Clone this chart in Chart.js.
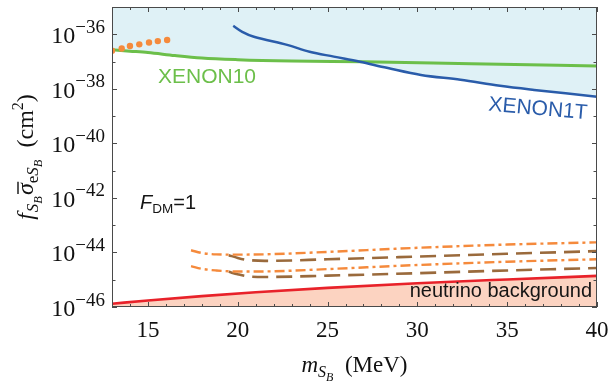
<!DOCTYPE html>
<html><head><meta charset="utf-8">
<script src="https://cdn.jsdelivr.net/npm/chart.js@4.4.1/dist/chart.umd.min.js"></script>
<style>html,body{margin:0;padding:0;background:#fff;}#wrap{width:611px;height:383px;}</style>
</head><body><div id="wrap"><canvas id="c" width="611" height="383"></canvas></div>
<script>
// ---- axis settings (y values are log10 of cross-section in cm^2) ----
const xMin = 13, xMax = 40;
const yMinExp = -46, yMaxExp = -35;
const xTickLabels = [15, 20, 25, 30, 35, 40];
const yTickLabelExps = [-46, -44, -42, -40, -38, -36];

// ---- data, y = log10(sigma / cm^2) ----
const xenon10X = [13, 14, 15, 16.5, 18, 20, 23, 27, 33, 40];
const xenon10Y = [-36.57, -36.62, -36.67, -36.78, -36.87, -36.93, -36.98, -37.01, -37.08, -37.16];

const xenon1tX = [19.75, 20.25, 20.9, 22.75, 24.0, 25.35, 26.8, 28.3, 30.2, 32.4, 34.6, 36.5, 40];
const xenon1tY = [-35.69, -35.91, -36.09, -36.39, -36.64, -36.82, -37.01, -37.23, -37.49, -37.67, -37.89, -38.04, -38.29];

const dotsX = [13, 13.54, 14.0, 14.52, 15.06, 15.55, 16.07];
const dotsY = [-36.60, -36.52, -36.43, -36.37, -36.30, -36.25, -36.21];

const nuX = [13, 15, 18, 21, 25, 30, 35, 40];
const nuY = [-45.88, -45.76, -45.60, -45.46, -45.30, -45.13, -44.99, -44.86];

const orangeUpX = [17.4, 18.0, 18.8, 20, 22, 25, 30, 35, 40];
const orangeUpY = [-43.92, -44.02, -44.07, -44.08, -44.06, -43.98, -43.83, -43.71, -43.63];
const orangeLoX = [17.4, 18.0, 18.8, 20, 22, 25, 30, 35, 40];
const orangeLoY = [-44.50, -44.60, -44.66, -44.70, -44.69, -44.61, -44.46, -44.34, -44.25];

const brownUpX = [19.5, 20, 20.5, 21.5, 25, 30, 35, 40];
const brownUpY = [-44.10, -44.20, -44.27, -44.31, -44.25, -44.15, -44.05, -43.95];
const brownLoX = [19.5, 20, 20.5, 21.5, 25, 30, 35, 40];
const brownLoY = [-44.71, -44.80, -44.87, -44.90, -44.85, -44.76, -44.66, -44.57];

const pts = (xs, ys) => xs.map((x, i) => ({x: x, y: ys[i]}));

const SERIF = '"Liberation Serif", "Times New Roman", serif';
const SANS = '"Liberation Sans", Arial, sans-serif';

function richWidth(ctx, runs) {
  let w = 0;
  for (const r of runs) { ctx.font = r.font; w += ctx.measureText(r.text).width + (r.kern || 0); }
  return w;
}
function drawRich(ctx, runs, x, y) {
  let cx = x;
  for (const r of runs) {
    ctx.font = r.font;
    const w = ctx.measureText(r.text).width;
    ctx.fillText(r.text, cx, y + (r.dy || 0));
    if (r.overline) {
      ctx.save();
      ctx.lineWidth = 1.4;
      ctx.beginPath();
      ctx.moveTo(cx + 1, y + r.overline);
      ctx.lineTo(cx + w + 1.5, y + r.overline);
      ctx.stroke();
      ctx.restore();
    }
    cx += w + (r.kern || 0);
  }
}

const decor = {
  id: 'decor',
  afterDraw(chart) {
    const ctx = chart.ctx;
    const xs = chart.scales.x, ys = chart.scales.y;
    const a = chart.chartArea;
    ctx.save();
    // frame
    ctx.strokeStyle = '#4a4a4a';
    ctx.lineWidth = 1;
    ctx.strokeRect(Math.round(a.left) + 0.5, Math.round(a.top) + 0.5,
                   Math.round(a.right - a.left) - 1, Math.round(a.bottom - a.top) - 1);
    // x ticks (inside, top and bottom)
    ctx.beginPath();
    for (let v = xMin; v <= xMax; v++) {
      const px = Math.round(xs.getPixelForValue(v)) + 0.5;
      const len = (v % 5 === 0) ? 5 : 3;
      ctx.moveTo(px, a.bottom); ctx.lineTo(px, a.bottom - len);
      ctx.moveTo(px, a.top); ctx.lineTo(px, a.top + len);
    }
    // y ticks (inside, left and right)
    for (let e = yMinExp; e < yMaxExp; e++) {
      const py = Math.round(ys.getPixelForValue(e)) + 0.5;
      const len = yTickLabelExps.includes(e) ? 5 : 3.5;
      ctx.moveTo(a.left, py); ctx.lineTo(a.left + len, py);
      ctx.moveTo(a.right, py); ctx.lineTo(a.right - len, py);
    }
    ctx.stroke();

    ctx.fillStyle = '#111';
    ctx.textBaseline = 'alphabetic';
    // x tick labels
    ctx.font = '23px ' + SERIF;
    ctx.textAlign = 'center';
    for (const v of xTickLabels) {
      ctx.fillText(String(v), xs.getPixelForValue(v), 337);
    }
    // y tick labels 10^e
    ctx.textAlign = 'left';
    for (const e of yTickLabelExps) {
      const py = ys.getPixelForValue(e);
      const expTxt = '\u2212' + String(Math.abs(e));
      ctx.font = '19px ' + SERIF;
      const ew = ctx.measureText(expTxt).width;
      ctx.font = '24px ' + SERIF;
      const bw = ctx.measureText('10').width;
      const right = 105;
      ctx.fillText('10', right - ew - bw, py + 9);
      ctx.font = '19px ' + SERIF;
      ctx.fillText(expTxt, right - ew, py - 1.5);
    }
    // x title
    const xRuns = [
      {text: 'm', font: 'italic 23px ' + SERIF},
      {text: 'S', font: 'italic 16px ' + SERIF, dy: 5},
      {text: 'B', font: 'italic 12px ' + SERIF, dy: 9},
      {text: '  (MeV)', font: '23px ' + SERIF}
    ];
    const xw = richWidth(ctx, xRuns);
    drawRich(ctx, xRuns, (a.left + a.right) / 2 - xw / 2, 372);
    // y title (rotated)
    const yRuns = [
      {text: 'f', font: 'italic 24px ' + SERIF, kern: 1},
      {text: 'S', font: 'italic 17px ' + SERIF, dy: 5},
      {text: 'B', font: 'italic 12.5px ' + SERIF, dy: 9, kern: 1},
      {text: '\u03C3', font: 'italic 24px ' + SERIF, overline: -15},
      {text: 'e', font: '17px ' + SERIF, dy: 5},
      {text: 'S', font: 'italic 17px ' + SERIF, dy: 5},
      {text: 'B', font: 'italic 12.5px ' + SERIF, dy: 9},
      {text: '  (cm', font: '24px ' + SERIF},
      {text: '2', font: '16px ' + SERIF, dy: -10},
      {text: ')', font: '24px ' + SERIF}
    ];
    const yw = richWidth(ctx, yRuns);
    ctx.save();
    ctx.strokeStyle = '#111';
    ctx.translate(33, (a.top + a.bottom) / 2);
    ctx.rotate(-Math.PI / 2);
    drawRich(ctx, yRuns, -yw / 2, 0);
    ctx.restore();

    // annotations
    ctx.font = '21px ' + SANS;
    ctx.fillStyle = '#6cbf4a';
    ctx.fillText('XENON10', 158, 83);
    ctx.save();
    ctx.fillStyle = '#2a5caa';
    ctx.translate(538, 109);
    ctx.rotate(5 * Math.PI / 180);
    ctx.textAlign = 'center';
    ctx.textBaseline = 'middle';
    ctx.fillText('XENON1T', 0, 0);
    ctx.restore();
    ctx.fillStyle = '#151515';
    ctx.font = '20px ' + SANS;
    ctx.textAlign = 'right';
    ctx.fillText('neutrino background', 592, 297);
    ctx.textAlign = 'left';
    drawRich(ctx, [
      {text: 'F', font: 'italic 20px ' + SANS},
      {text: 'DM', font: '13.5px ' + SANS, dy: 4},
      {text: '=1', font: '20px ' + SANS}
    ], 140, 209);
    ctx.restore();
  }
};

new Chart(document.getElementById('c'), {
  type: 'line',
  data: {
    datasets: [
      {data: pts(dotsX, dotsY), showLine: false, pointRadius: 3.2, pointBackgroundColor: '#f58a3c', pointBorderWidth: 0, borderColor: '#f58a3c', fill: false},
      {data: pts(xenon1tX, xenon1tY), borderColor: '#2a5caa', borderWidth: 2.5, fill: 'end', backgroundColor: '#dff1f6', tension: 0.35},
      {data: pts(xenon10X, xenon10Y), borderColor: '#6cbf4a', borderWidth: 3, fill: 'end', backgroundColor: '#dff1f6', cubicInterpolationMode: 'monotone'},
      {data: pts(orangeUpX, orangeUpY), borderColor: '#f58a3c', borderWidth: 2.4, borderDash: [10, 4, 3, 4], fill: false, cubicInterpolationMode: 'monotone'},
      {data: pts(orangeLoX, orangeLoY), borderColor: '#f58a3c', borderWidth: 2.4, borderDash: [10, 4, 3, 4], fill: false, cubicInterpolationMode: 'monotone'},
      {data: pts(brownUpX, brownUpY), borderColor: '#9a6a3c', borderWidth: 2.6, borderDash: [16, 8], fill: false, cubicInterpolationMode: 'monotone'},
      {data: pts(brownLoX, brownLoY), borderColor: '#9a6a3c', borderWidth: 2.6, borderDash: [16, 8], fill: false, cubicInterpolationMode: 'monotone'},
      {data: pts(nuX, nuY), borderColor: '#e8222a', borderWidth: 2.6, fill: 'start', backgroundColor: '#fcd3c1', cubicInterpolationMode: 'monotone'}
    ]
  },
  options: {
    responsive: false,
    animation: false,
    devicePixelRatio: 1,
    layout: {padding: {left: 112, right: 14, top: 7, bottom: 76}},
    scales: {
      x: {type: 'linear', min: xMin, max: xMax, display: false},
      y: {type: 'linear', min: yMinExp, max: yMaxExp, display: false}
    },
    elements: {point: {radius: 0, hoverRadius: 0}},
    plugins: {legend: {display: false}, tooltip: {enabled: false}, filler: {drawTime: 'beforeDatasetsDraw'}}
  },
  plugins: [decor]
});
</script>
</body></html>
